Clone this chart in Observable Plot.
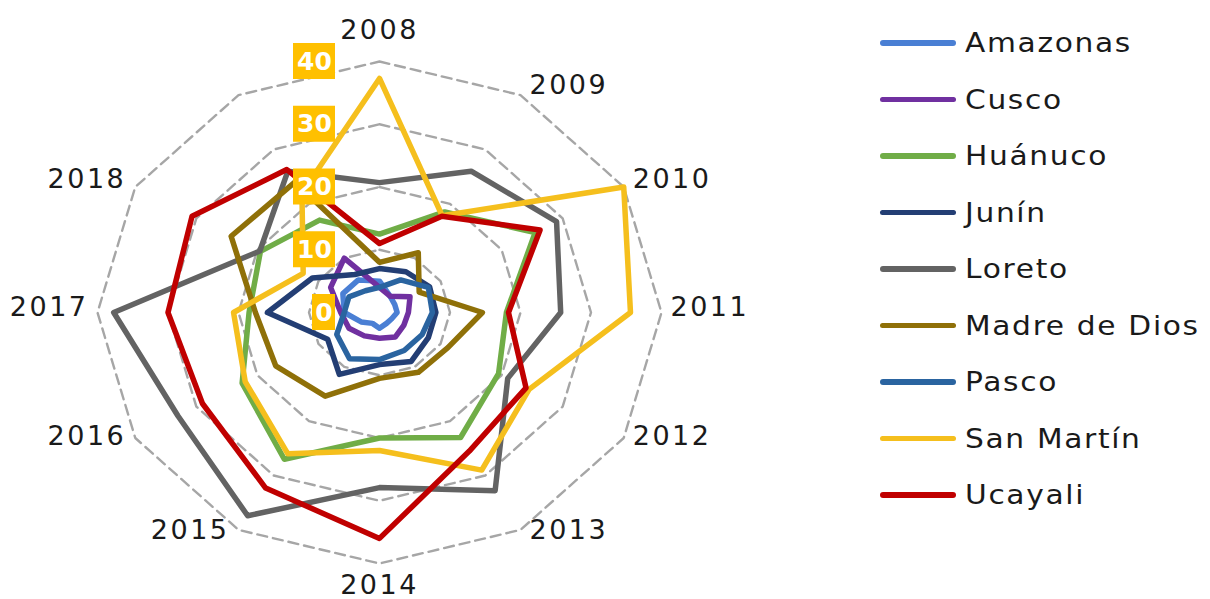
<!DOCTYPE html>
<html><head><meta charset="utf-8">
<script src="https://cdn.jsdelivr.net/npm/d3@7"></script>
<script src="https://cdn.jsdelivr.net/npm/@observablehq/plot@0.6"></script>
<style>
html,body{margin:0;padding:0;background:#fff;}
#wrap{position:relative;width:1210px;height:599px;overflow:hidden;font-family:"DejaVu Sans",sans-serif;}
#chart{position:absolute;left:0;top:0;}
.lg-line{position:absolute;left:880px;width:76px;height:5.5px;border-radius:3px;}
.lg-text{position:absolute;left:965px;font-size:27px;line-height:32px;letter-spacing:1.5px;color:#1a1a1a;transform:scaleX(1.1);transform-origin:left center;white-space:nowrap;}
</style></head>
<body><div id="wrap"><div id="chart"></div><div id="legend"></div></div>
<script>
// ---- data ----
const categories = ["2008","2009","2010","2011","2012","2013","2014","2015","2016","2017","2018",""];
const seriesNames = ["Amazonas","Cusco","Huánuco","Junín","Loreto","Madre de Dios","Pasco","San Martín","Ucayali"];
const seriesColors = ["#4A7FD4","#7030A0","#70AD47","#233E74","#636363","#8F7008","#2A64A0","#F5BF1D","#C00000"];
const amazonas   = [5, 3, 2.5, 2.5, 2, 2, 2.5, 2, 3, 5, 6, 6];
const cusco      = [4, 3, 5, 4.1, 4, 4.5, 4.1, 4.3, 5, 5.5, 8, 10];
const huanuco    = [12.5, 18.5, 25.5, 18, 19.5, 23, 20, 27, 22.5, 18.5, 19.5, 17];
const junin      = [7, 7.5, 8.2, 8, 8, 9, 8.3, 11.4, 8.5, 15.9, 11, 7];
const loreto     = [20.7, 26, 29, 25.7, 21, 32.8, 27.9, 37.4, 33, 37.7, 19.6, 26];
const madreDeDios= [8, 11, 6.5, 14.6, 11.2, 11, 10.5, 15.4, 17, 17.6, 24.3, 24];
const pasco      = [4, 6, 8, 7.5, 7, 7, 7.5, 8.5, 7, 5, 5, 4];
const sanMartin  = [37.3, 17.8, 40, 35.6, 24.5, 29, 22, 26, 22, 20.7, 12.5, 22];
const ucayali    = [11, 17.7, 26.3, 18.3, 24, 25.5, 36, 32.3, 29, 30, 30.7, 26.3];
const seriesValues = [amazonas, cusco, huanuco, junin, loreto, madreDeDios, pasco, sanMartin, ucayali];
const gridLevels = [10, 20, 30, 40];
const tickValues = [0, 10, 20, 30, 40];
const tickLabels = ["0", "10", "20", "30", "40"];

// ---- geometry ----
const N = categories.length;
const vmax = 40;
const cx = 379, cy = 312, rx = 282, ry = 251;
const RX = rx / vmax, RY = ry / vmax; // px per unit
const ang = i => i * 2 * Math.PI / N;

const rows = seriesNames.flatMap((s, k) => seriesValues[k].map((v, i) => ({
  series: s, cat: categories[i], value: v,
  x: v * Math.sin(ang(i)), y: v * Math.cos(ang(i))
})));
const grid = gridLevels.flatMap(l => categories.map((c, i) => ({
  level: l, x: l * Math.sin(ang(i)), y: l * Math.cos(ang(i))
})));
const ticks = tickValues.map((v, i) => {
  const w = 4 + 19 * tickLabels[i].length; // px
  const right = -44 / RX;
  return {
    label: tickLabels[i], value: v,
    x1: right - w / RX, x2: right, xc: right - w / 2 / RX,
    y1: v - 18 / RY, y2: v + 18 / RY, y: v
  };
});
const yearLabels = categories.map((c, i) => {
  const s = Math.sin(ang(i)), co = Math.cos(ang(i));
  let dx = 0, dy = 0, anchor = "middle";
  if (Math.abs(s) < 0.01) { dy = co > 0 ? -31 : 22; }
  else { anchor = s > 0 ? "start" : "end"; dx = s > 0 ? 9 : -9; dy = -5 - 6 * co; }
  return { label: c, anchor, x: vmax * s + dx / RX, y: vmax * co - dy / RY };
}).filter(d => d.label !== "");

const yearText = anchor => Plot.text(yearLabels.filter(d => d.anchor === anchor), {
  x: "x", y: "y", text: "label", textAnchor: anchor,
  fill: "#1a1a1a", fontSize: 27, fontFamily: "DejaVu Sans"
});

const plot = Plot.plot({
  width: 860, height: 599,
  marginTop: 0, marginBottom: 0, marginLeft: 0, marginRight: 0,
  x: { domain: [-vmax, vmax], range: [cx - rx, cx + rx], axis: null },
  y: { domain: [-vmax, vmax], range: [cy + ry, cy - ry], axis: null },
  color: { domain: seriesNames, range: seriesColors },
  style: { background: "white", overflow: "visible" },
  marks: [
    Plot.line(grid, { x: "x", y: "y", z: "level", curve: "linear-closed",
      stroke: "#A6A6A6", strokeWidth: 2.4, strokeDasharray: "10,6" }),
    Plot.line(rows, { x: "x", y: "y", z: "series", stroke: "series", curve: "linear-closed",
      strokeWidth: 5.5, strokeLinejoin: "round", strokeLinecap: "round" }),
    Plot.rect(ticks, { x1: "x1", x2: "x2", y1: "y1", y2: "y2", fill: "#FFC000" }),
    Plot.text(ticks, { x: "xc", y: "y", text: "label", fill: "white", fontWeight: "bold",
      fontSize: 25, fontFamily: "DejaVu Sans" }),
    yearText("middle"), yearText("start"), yearText("end")
  ]
});
document.getElementById("chart").appendChild(plot);
// letter spacing for the category labels
d3.select(plot).selectAll("text").filter(function () { return categories.includes(this.textContent) && this.textContent !== ""; })
  .style("letter-spacing", "2.5px");

// ---- legend ----
const legend = document.getElementById("legend");
const lgTop = 43, lgStep = 56.5;
seriesNames.forEach((s, k) => {
  const yc = lgTop + k * lgStep;
  const ln = document.createElement("div");
  ln.className = "lg-line"; ln.style.top = (yc - 2.75) + "px"; ln.style.background = seriesColors[k];
  const tx = document.createElement("div");
  tx.className = "lg-text"; tx.style.top = (yc - 16) + "px"; tx.textContent = s;
  legend.appendChild(ln); legend.appendChild(tx);
});
</script>
</body></html>
